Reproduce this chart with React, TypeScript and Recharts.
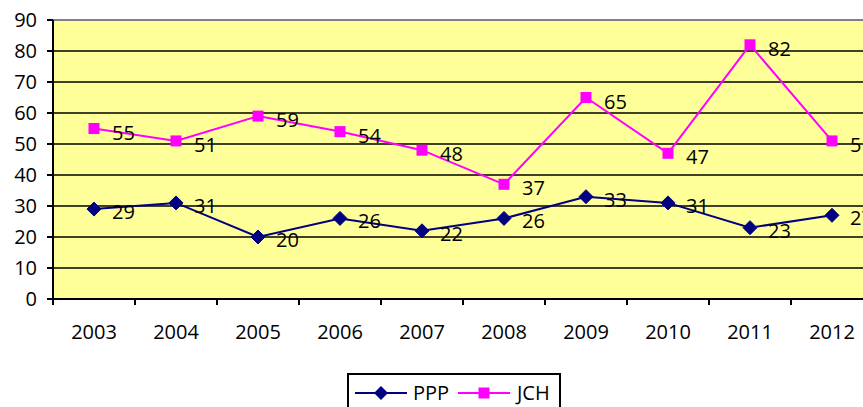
import React from 'react';
import { LineChart, Line, XAxis, YAxis, CartesianGrid, ReferenceLine, Legend } from 'recharts';

const years = ['2003', '2004', '2005', '2006', '2007', '2008', '2009', '2010', '2011', '2012'];
const pppValues = [29, 31, 20, 26, 22, 26, 33, 31, 23, 27];
const jchValues = [55, 51, 59, 54, 48, 37, 65, 47, 82, 51];
const yTicks = [0, 10, 20, 30, 40, 50, 60, 70, 80, 90];

const data = years.map((year, i) => ({ year, PPP: pppValues[i], JCH: jchValues[i] }));

const FONT = '"Open Sans", sans-serif';
const PPP_COLOR = '#000080';
const JCH_COLOR = '#FF00FF';
const HALF_BAND = 41;

const XTick = (props: any) => {
  const { x, y, payload } = props;
  return (
    <g>
      <line x1={x - HALF_BAND} x2={x - HALF_BAND} y1={y - 6} y2={y} stroke="#000" strokeWidth={2} />
      <line x1={x + HALF_BAND} x2={x + HALF_BAND} y1={y - 6} y2={y} stroke="#000" strokeWidth={2} />
      <text x={x} y={y + 34} textAnchor="middle" fontSize={20} fontFamily={FONT} fill="#000">
        {payload.value}
      </text>
    </g>
  );
};

const Diamond = (p: any) => {
  const { cx, cy, index } = p;
  if (cx == null || cy == null) return <g key={`pd-${index}`} />;
  const r = 7;
  return (
    <polygon
      key={`pd-${index}`}
      points={`${cx},${cy - r} ${cx + r},${cy} ${cx},${cy + r} ${cx - r},${cy}`}
      fill={PPP_COLOR}
      stroke={PPP_COLOR}
    />
  );
};

const Square = (p: any) => {
  const { cx, cy, index } = p;
  if (cx == null || cy == null) return <g key={`jd-${index}`} />;
  const s = 11;
  return <rect key={`jd-${index}`} x={cx - s / 2} y={cy - s / 2} width={s} height={s} fill={JCH_COLOR} />;
};

const makeLabel = (dy: number) => (p: any) => {
  const x = p.x ?? p.viewBox?.x;
  const y = p.y ?? p.viewBox?.y;
  if (x == null || y == null) return null;
  return (
    <text key={`l-${p.index}-${x}`} x={x + 18} y={y + dy} fontSize={20} fontFamily={FONT} fill="#000">
      {p.value}
    </text>
  );
};

const LegendBox = () => (
  <div
    style={{
      position: 'absolute',
      left: 347,
      top: 373,
      width: 214,
      height: 40,
      border: '2px solid #000',
      background: '#fff',
      boxSizing: 'border-box',
      fontFamily: FONT,
      fontSize: 20,
    }}
  >
    <svg width={214} height={40} style={{ position: 'absolute', left: -2, top: -2 }}>
      <line x1={8} x2={60} y1={20} y2={20} stroke={PPP_COLOR} strokeWidth={2} />
      <polygon points="34,13 41,20 34,27 27,20" fill={PPP_COLOR} />
      <text x={66} y={27} fontSize={20} fontFamily={FONT} fill="#000">PPP</text>
      <line x1={111} x2={163} y1={20} y2={20} stroke={JCH_COLOR} strokeWidth={2} />
      <rect x={131.5} y={14.5} width={11} height={11} fill={JCH_COLOR} />
      <text x={170} y={27} fontSize={20} fontFamily={FONT} fill="#000">JCH</text>
    </svg>
  </div>
);

export default function App() {
  return (
    <div style={{ position: 'absolute', left: 0, top: 0, width: 863, height: 407, overflow: 'hidden', background: '#fff' }}>
      <LineChart
        width={900}
        height={407}
        data={data}
        margin={{ top: 20, right: 27, left: 0, bottom: 68 }}
        style={{ fontFamily: FONT }}
      >
        <CartesianGrid
          horizontal
          vertical={false}
          stroke="#000"
          strokeWidth={1.6}
          strokeOpacity={1}
          fill="#FFFF99"
          fillOpacity={1}
        />
        <ReferenceLine y={90} stroke="#808080" strokeWidth={2} ifOverflow="extendDomain" />
        <XAxis
          dataKey="year"
          padding={{ left: HALF_BAND, right: HALF_BAND }}
          height={40}
          tickSize={6}
          tickMargin={0}
          tickLine={false}
          axisLine={{ stroke: '#000', strokeWidth: 2 }}
          tick={<XTick />}
          interval={0}
        />
        <YAxis
          domain={[0, 90]}
          ticks={yTicks}
          width={53}
          tickSize={6}
          tickMargin={10}
          interval={0}
          axisLine={{ stroke: '#000', strokeWidth: 2 }}
          tickLine={{ stroke: '#000', strokeWidth: 2 }}
          tick={{ fontSize: 20, fill: '#000', fontFamily: FONT }}
        />
        <Line
          dataKey="PPP"
          name="PPP"
          stroke={PPP_COLOR}
          strokeWidth={2}
          dot={Diamond}
          activeDot={false}
          isAnimationActive={false}
          label={makeLabel(10)}
        />
        <Line
          dataKey="JCH"
          name="JCH"
          stroke={JCH_COLOR}
          strokeWidth={2}
          dot={Square}
          activeDot={false}
          isAnimationActive={false}
          label={makeLabel(11)}
        />
      </LineChart>
      <LegendBox />
    </div>
  );
}
